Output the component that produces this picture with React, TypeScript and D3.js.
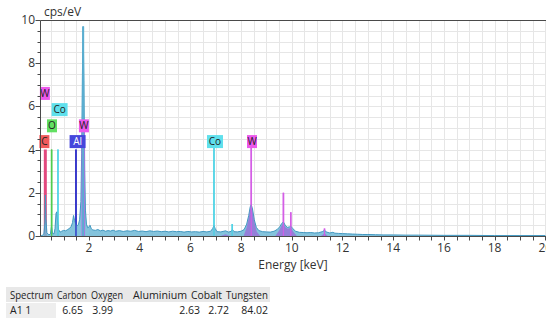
import React from 'react';
import * as d3 from 'd3';

// measured EDS spectrum (keV, cps/eV)
const spectrumKeV = [
  0.08, 0.15, 0.22, 0.26, 0.28, 0.30, 0.34, 0.42, 0.48, 0.52, 0.56, 0.62, 0.66, 0.70, 0.73, 0.76, 0.80, 0.86,
  0.92, 1.00, 1.08, 1.16, 1.24, 1.30, 1.35, 1.39, 1.43, 1.48, 1.53, 1.58, 1.63, 1.68, 1.71, 1.74, 1.77, 1.80,
  1.83, 1.86, 1.90, 1.95, 2.00, 2.04, 2.09, 2.15, 2.25, 2.35, 2.45, 2.55, 2.65, 2.75, 2.85, 2.95, 3.05, 3.2,
  3.35, 3.5, 3.65, 3.8, 3.95, 4.1, 4.25, 4.4, 4.55, 4.7, 4.85, 5.0, 5.15, 5.3, 5.45, 5.6, 5.75, 5.9, 6.05,
  6.2, 6.35, 6.5, 6.65, 6.8, 6.88, 6.93, 6.98, 7.05, 7.2, 7.39, 7.5, 7.62, 7.66, 7.72, 7.85, 8.0, 8.12, 8.22,
  8.30, 8.36, 8.40, 8.45, 8.52, 8.60, 8.70, 8.85, 9.0, 9.15, 9.3, 9.42, 9.52, 9.60, 9.67, 9.74, 9.82, 9.90,
  9.96, 10.04, 10.15, 10.3, 10.45, 10.6, 10.75, 10.9, 11.05, 11.2, 11.29, 11.38, 11.5, 11.62, 11.7, 11.85,
  12.0, 12.2, 12.4, 12.6, 12.8, 13.0, 13.3, 13.6, 14.0, 14.5, 15.0, 16, 17, 18, 19, 20,
];
const spectrumCps = [
  0.00, 0.02, 0.10, 0.60, 1.90, 0.80, 0.15, 0.05, 0.10, 0.45, 0.12, 0.10, 0.35, 1.05, 1.12, 0.70, 0.30, 0.18,
  0.22, 0.26, 0.24, 0.30, 0.36, 0.45, 0.62, 0.95, 0.72, 0.55, 0.48, 0.52, 0.75, 1.60, 3.80, 7.50, 9.70, 7.20,
  3.10, 1.20, 0.55, 0.38, 0.42, 0.50, 0.34, 0.28, 0.26, 0.30, 0.24, 0.27, 0.22, 0.25, 0.23, 0.27, 0.22, 0.25,
  0.21, 0.24, 0.22, 0.26, 0.21, 0.23, 0.20, 0.24, 0.21, 0.23, 0.20, 0.22, 0.19, 0.22, 0.20, 0.21, 0.18, 0.21, 0.19,
  0.20, 0.18, 0.21, 0.19, 0.22, 0.35, 0.48, 0.34, 0.20, 0.19, 0.24, 0.18, 0.22, 0.30, 0.20, 0.19, 0.22, 0.30, 0.55,
  0.95, 1.35, 1.45, 1.25, 0.75, 0.40, 0.25, 0.20, 0.19, 0.18, 0.22, 0.30, 0.42, 0.58, 0.65, 0.50, 0.40, 0.42,
  0.45, 0.34, 0.22, 0.17, 0.16, 0.15, 0.16, 0.14, 0.15, 0.20, 0.26, 0.18, 0.14, 0.17, 0.13, 0.12,
  0.11, 0.10, 0.09, 0.08, 0.07, 0.07, 0.06, 0.05, 0.05, 0.04, 0.04, 0.03, 0.03, 0.02, 0.02, 0.02,
];

// tungsten fit overlay
const wFitKeV = [7.2, 7.39, 7.55, 8.1, 8.22, 8.30, 8.36, 8.40, 8.45, 8.52, 8.62, 8.75, 9.35, 9.5, 9.6, 9.67, 9.75, 9.84, 9.96, 10.06, 10.2, 11.15, 11.29, 11.42];
const wFitCps = [0, 0.08, 0, 0, 0.4, 0.85, 1.25, 1.35, 1.15, 0.65, 0.2, 0, 0, 0.25, 0.5, 0.58, 0.42, 0.34, 0.38, 0.2, 0, 0, 0.12, 0];

// element marker lines
const markerElement = ['C', 'O', 'Co', 'Al', 'W', 'Co', 'Co', 'W', 'W', 'W', 'W'];
const markerKeV = [0.277, 0.525, 0.776, 1.486, 1.775, 6.93, 7.65, 8.40, 9.67, 9.96, 11.29];
const markerTop = [4.0, 4.0, 4.0, 4.0, 4.8, 4.07, 0.55, 4.07, 2.0, 1.1, 0.35];

// label boxes
const labelText = ['W', 'Co', 'O', 'C', 'Al', 'W', 'Co', 'W'];
const labelKeV = [0.26, 0.84, 0.54, 0.24, 1.55, 1.8, 6.97, 8.43];
const labelLevel = [6.3, 5.55, 4.8, 4.07, 4.07, 4.8, 4.07, 4.07];

const yTicks = [0, 2, 4, 6, 8, 10];
const xTicks = [2, 4, 6, 8, 10, 12, 14, 16, 18, 20];

const tableHeader = ['Spectrum', 'Carbon', 'Oxygen', 'Aluminium', 'Cobalt', 'Tungsten'];
const tableRow = ['A1 1', '6.65', '3.99', '2.63', '2.72', '84.02'];

const colors: Record<string, string> = { C: '#f05a5a', O: '#62e062', Co: '#5fe0ec', Al: '#4646dc', W: '#ec58ec' };
const lineColors: Record<string, string> = { C: '#e2487e', O: '#4fcc4f', Co: '#52d4e6', Al: '#2c2cc8', W: '#d45ee6' };

const W = 546, H = 318;
const font = '"Open Sans", "Noto Sans", sans-serif';

export default function App() {
  const x = d3.scaleLinear().domain([0, 20]).range([38.3, 545.3]);
  const y = d3.scaleLinear().domain([0, 10]).range([236, 20]);
  const x0 = 40.5, yB = 236.5, yT = 20.5;

  const spec = spectrumKeV.map((e, i) => [e, spectrumCps[i]] as [number, number]);
  const fit = wFitKeV.map((e, i) => [e, wFitCps[i]] as [number, number]);
  const area = d3.area<[number, number]>().x(d => x(d[0])).y0(y(0)).y1(d => y(d[1]));
  const line = d3.line<[number, number]>().x(d => x(d[0])).y(d => y(d[1]));

  const half = d3.range(0.5, 20.01, 0.5);
  const halfY = d3.range(0.5, 10.01, 0.5);
  // table column layout (px)
  const headerX = [10, 57, 91, 133, 191, 226];
  const headerW = [43, 30, 32, 54, 31, 42];
  const rowX = [10, 83, 113, 200, 229, 268];

  return (
    <svg width={W} height={H} style={{ position: 'absolute', left: 0, top: 0, background: '#fff' }} fontFamily={font}>
      <defs>
        <clipPath id="plot"><rect x={x0} y={20} width={W - x0} height={216.5} /></clipPath>
      </defs>
      {/* grid */}
      <g stroke="#e6e6e6" strokeWidth={1}>
        {half.map(v => <line key={'gx' + v} x1={Math.round(x(v)) + 0.5} x2={Math.round(x(v)) + 0.5} y1={yT} y2={yB} />)}
        {halfY.map(v => <line key={'gy' + v} x1={x0} x2={W} y1={Math.round(y(v)) + 0.5} y2={Math.round(y(v)) + 0.5} />)}
      </g>
      <g clipPath="url(#plot)">
        {markerKeV.map((e, i) => i === 4 ? null : (
          <line key={'m' + i} x1={x(e)} x2={x(e)} y1={y(0)} y2={y(markerTop[i])}
            stroke={lineColors[markerElement[i]]} strokeWidth={i === 0 ? 3 : 1.6} />
        ))}
        <path d={area(spec) ?? ''} fill="#6fb8d6" fillOpacity={0.85} />
        <path d={line(spec) ?? ''} fill="none" stroke="#4298c0" strokeWidth={1} />
        <path d={area(fit) ?? ''} fill="#9a6ad8" fillOpacity={0.75} />
        <line x1={x(markerKeV[4])} x2={x(markerKeV[4])} y1={y(0)} y2={y(markerTop[4])}
          stroke="#b866e4" strokeWidth={3.5} strokeOpacity={0.85} />
        <line x1={x(1.77)} x2={x(1.77)} y1={y(0)} y2={y(9.7)} stroke="#5aaed0" strokeWidth={2} />
        {markerKeV.map((e, i) => i === 0 || i === 4 ? null : (
          <line key={'mt' + i} x1={x(e)} x2={x(e)} y1={y(0)} y2={y(markerTop[i])}
            stroke={lineColors[markerElement[i]]} strokeWidth={1.3} strokeOpacity={0.9} />
        ))}
      </g>
      {/* labels */}
      {labelText.map((t, i) => {
        const w = t.length * 6 + 4;
        const cx = x(labelKeV[i]);
        const yb = y(labelLevel[i]);
        return (
          <g key={'l' + i}>
            <rect x={cx - w / 2} y={yb - 13} width={w} height={13} fill={colors[t]} />
            <text x={cx} y={yb - 3} textAnchor="middle" fontSize={10} fill={t === 'Al' ? '#fff' : '#222'}>{t}</text>
          </g>
        );
      })}
      {/* axes */}
      <g stroke="#4a4a4a" strokeWidth={1} fill="none">
        <line x1={x0} x2={x0} y1={yT} y2={yB} />
        <line x1={x0} x2={W} y1={yB} y2={yB} />
        <line x1={x0} x2={W} y1={yT} y2={yT} />
        {halfY.concat([0]).map(v => (
          <line key={'ty' + v} x1={x0 - (v % 2 === 0 ? 5 : 3)} x2={x0} y1={Math.round(y(v)) + 0.5} y2={Math.round(y(v)) + 0.5} />
        ))}
        {half.map(v => (
          <line key={'tx' + v} x1={Math.round(x(v)) + 0.5} x2={Math.round(x(v)) + 0.5} y1={yB} y2={yB + 4} />
        ))}
      </g>
      <g fontSize={12} fill="#333">
        {yTicks.map(v => <text key={'yl' + v} x={35} y={y(v) + 4} textAnchor="end">{v}</text>)}
        {xTicks.map(v => <text key={'xl' + v} x={x(v)} y={252} textAnchor="middle">{v}</text>)}
        <text x={44} y={16}>cps/eV</text>
        <text x={293} y={269} textAnchor="middle">Energy [keV]</text>
      </g>
      {/* results table */}
      <rect x={6} y={287} width={264} height={15} fill="#e8e8e8" />
      <rect x={6} y={303} width={50} height={15} fill="#eeeeee" />
      <g fontSize={10.5} fill="#222">
        {tableHeader.map((t, i) => (
          <text key={'h' + i} x={headerX[i]} y={298.5} textLength={headerW[i]} lengthAdjust="spacingAndGlyphs">{t}</text>
        ))}
        {tableRow.map((t, i) => <text key={'r' + i} x={rowX[i]} y={314} textAnchor={i === 0 ? 'start' : 'end'}>{t}</text>)}
      </g>
    </svg>
  );
}
